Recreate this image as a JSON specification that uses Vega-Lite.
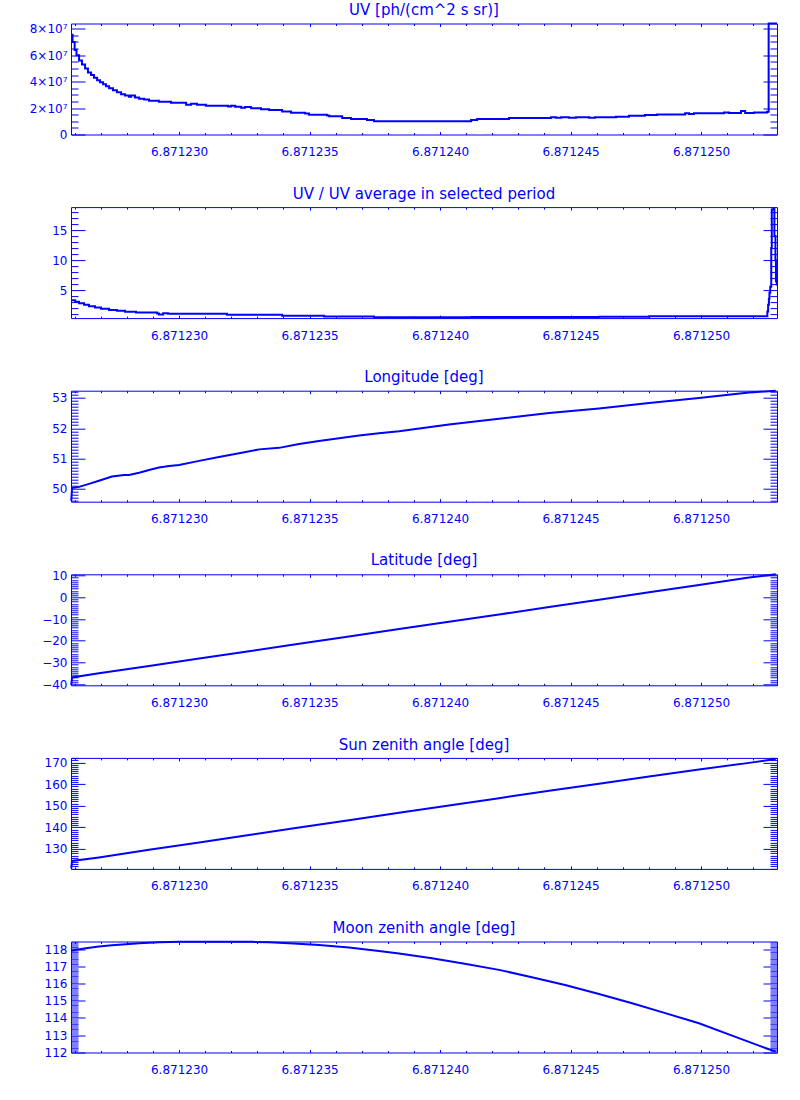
{
"$schema": "https://vega.github.io/schema/vega-lite/v6.json",
"background": "white",
"padding": {"left": 28, "top": 1.5, "right": 5, "bottom": 5},
"bounds": "flush",
"spacing": 72.6,
"config": {
  "font": "DejaVu Sans",
  "view": {"stroke": "#0000ff", "strokeWidth": 1},
  "axis": {"domain": false, "grid": false, "labelColor": "#0000ff", "tickColor": "#0000ff", "labelFont": "DejaVu Sans", "labelFontSize": 12, "tickWidth": 1, "labelOverlap": false, "labelFlush": false, "title": null},
  "title": {"color": "#0000ff", "font": "DejaVu Sans", "fontSize": 15, "fontWeight": "normal", "offset": 2, "baseline": "alphabetic", "anchor": "middle"}
},
"vconcat": [
{
  "title": "UV [ph/(cm^2 s sr)]",
  "width": 706, "height": 111,
  "data": {"values": [
    {"x": 6.87122587, "y": 75500000}, {"x": 6.87122592, "y": 70000000}, {"x": 6.87122600, "y": 64000000},
    {"x": 6.87122607, "y": 60000000}, {"x": 6.87122617, "y": 56000000}, {"x": 6.87122628, "y": 53000000},
    {"x": 6.87122640, "y": 50000000}, {"x": 6.87122651, "y": 47000000}, {"x": 6.87122663, "y": 45000000},
    {"x": 6.87122674, "y": 43000000}, {"x": 6.87122686, "y": 41000000}, {"x": 6.87122697, "y": 39500000},
    {"x": 6.87122709, "y": 38000000}, {"x": 6.87122720, "y": 36500000}, {"x": 6.87122732, "y": 35000000},
    {"x": 6.87122747, "y": 33500000}, {"x": 6.87122762, "y": 32000000}, {"x": 6.87122778, "y": 30500000},
    {"x": 6.87122793, "y": 29500000}, {"x": 6.87122808, "y": 28500000}, {"x": 6.87122816, "y": 29500000},
    {"x": 6.87122831, "y": 28000000}, {"x": 6.87122847, "y": 27000000}, {"x": 6.87122866, "y": 26500000},
    {"x": 6.87122885, "y": 25500000}, {"x": 6.87122923, "y": 24800000}, {"x": 6.87122969, "y": 24000000},
    {"x": 6.87123027, "y": 22500000}, {"x": 6.87123046, "y": 23200000}, {"x": 6.87123069, "y": 22500000},
    {"x": 6.87123103, "y": 21800000}, {"x": 6.87123188, "y": 21200000}, {"x": 6.87123199, "y": 21800000},
    {"x": 6.87123215, "y": 21000000}, {"x": 6.87123238, "y": 20200000}, {"x": 6.87123253, "y": 20800000},
    {"x": 6.87123276, "y": 19800000}, {"x": 6.87123314, "y": 19200000}, {"x": 6.87123345, "y": 18500000},
    {"x": 6.87123395, "y": 17500000}, {"x": 6.87123429, "y": 16500000}, {"x": 6.87123483, "y": 15800000},
    {"x": 6.87123498, "y": 15000000}, {"x": 6.87123567, "y": 14300000}, {"x": 6.87123575, "y": 13800000},
    {"x": 6.87123625, "y": 12500000}, {"x": 6.87123659, "y": 11800000}, {"x": 6.87123720, "y": 11000000},
    {"x": 6.87123747, "y": 10000000}, {"x": 6.87124119, "y": 11000000}, {"x": 6.87124142, "y": 11700000},
    {"x": 6.87124264, "y": 12400000}, {"x": 6.87124425, "y": 13000000}, {"x": 6.87124444, "y": 12700000},
    {"x": 6.87124464, "y": 13000000}, {"x": 6.87124494, "y": 12700000}, {"x": 6.87124521, "y": 13000000},
    {"x": 6.87124571, "y": 12700000}, {"x": 6.87124594, "y": 13000000}, {"x": 6.87124674, "y": 13500000},
    {"x": 6.87124724, "y": 14200000}, {"x": 6.87124785, "y": 14800000}, {"x": 6.87124831, "y": 15200000},
    {"x": 6.87124939, "y": 16000000}, {"x": 6.87124954, "y": 15600000}, {"x": 6.87124973, "y": 16000000},
    {"x": 6.87125088, "y": 16700000}, {"x": 6.87125107, "y": 16200000}, {"x": 6.87125153, "y": 17700000},
    {"x": 6.87125169, "y": 16300000}, {"x": 6.87125203, "y": 16700000}, {"x": 6.87125253, "y": 17200000},
    {"x": 6.87125259, "y": 84000000}, {"x": 6.87125291, "y": 84000000}
  ]},
  "layer": [
    {"mark": {"type": "line", "color": "#0000ff", "strokeWidth": 2, "interpolate": "step-after"},
     "encoding": {
       "x": {"field": "x", "type": "quantitative", "scale": {"domain": [6.87122586, 6.87125291], "nice": false, "zero": false},
             "axis": {"orient": "bottom", "values": [6.87123, 6.871235, 6.87124, 6.871245, 6.87125], "format": ".6f", "ticks": false, "labelPadding": 12}},
       "y": {"field": "y", "type": "quantitative", "scale": {"domain": [0, 84000000], "nice": false, "zero": false},
             "axis": {"orient": "left", "values": [0, 20000000, 40000000, 60000000, 80000000], "labelExpr": "datum.value == 0 ? '0' : format(datum.value / 1e7, 'd') + '×10⁷'", "ticks": false, "labelPadding": 4}}
     }},
    {"mark": {"type": "line", "opacity": 0},
     "encoding": {
       "x": {"field": "x", "type": "quantitative", "scale": {"domain": [6.87122586, 6.87125291], "nice": false, "zero": false},
             "axis": {"orient": "bottom", "labels": false, "values": [6.871226,6.871227,6.871228,6.871229,6.87123,6.871231,6.871232,6.871233,6.871234,6.871235,6.871236,6.871237,6.871238,6.871239,6.87124,6.871241,6.871242,6.871243,6.871244,6.871245,6.871246,6.871247,6.871248,6.871249,6.87125,6.871251,6.871252], "tickSize": {"condition": {"test": "round(datum.value*1e6) % 5 == 0", "value": -3}, "value": -2}}},
       "y": {"field": "y", "type": "quantitative", "scale": {"domain": [0, 84000000], "nice": false, "zero": false},
             "axis": {"orient": "left", "labels": false, "values": [0,5000000,10000000,15000000,20000000,25000000,30000000,35000000,40000000,45000000,50000000,55000000,60000000,65000000,70000000,75000000,80000000], "tickSize": {"condition": {"test": "round(datum.value/1e6) % 20 == 0", "value": -14}, "value": -7}}}
     }},
    {"mark": {"type": "line", "opacity": 0},
     "encoding": {
       "x": {"field": "x", "type": "quantitative", "scale": {"domain": [6.87122586, 6.87125291], "nice": false, "zero": false},
             "axis": {"orient": "top", "labels": false, "values": [6.871226,6.871227,6.871228,6.871229,6.87123,6.871231,6.871232,6.871233,6.871234,6.871235,6.871236,6.871237,6.871238,6.871239,6.87124,6.871241,6.871242,6.871243,6.871244,6.871245,6.871246,6.871247,6.871248,6.871249,6.87125,6.871251,6.871252], "tickSize": {"condition": {"test": "round(datum.value*1e6) % 5 == 0", "value": -3}, "value": -2}}},
       "y": {"field": "y", "type": "quantitative", "scale": {"domain": [0, 84000000], "nice": false, "zero": false},
             "axis": {"orient": "right", "labels": false, "values": [0,5000000,10000000,15000000,20000000,25000000,30000000,35000000,40000000,45000000,50000000,55000000,60000000,65000000,70000000,75000000,80000000], "tickSize": {"condition": {"test": "round(datum.value/1e6) % 20 == 0", "value": -14}, "value": -7}}}
     }}
  ],
  "resolve": {"axis": {"x": "independent", "y": "independent"}}
},
{
  "title": "UV / UV average in selected period",
  "width": 706, "height": 111,
  "data": {"values": [
    {"x": 6.87122587, "y": 3.35}, {"x": 6.87122602, "y": 3.1}, {"x": 6.87122617, "y": 2.85},
    {"x": 6.87122636, "y": 2.6}, {"x": 6.87122655, "y": 2.35}, {"x": 6.87122678, "y": 2.15},
    {"x": 6.87122701, "y": 1.95}, {"x": 6.87122732, "y": 1.75}, {"x": 6.87122762, "y": 1.6},
    {"x": 6.87122793, "y": 1.45}, {"x": 6.87122835, "y": 1.3}, {"x": 6.87122916, "y": 1.15},
    {"x": 6.87122923, "y": 1.0}, {"x": 6.87122939, "y": 1.2}, {"x": 6.87122958, "y": 1.1},
    {"x": 6.87123184, "y": 0.95}, {"x": 6.87123395, "y": 0.8}, {"x": 6.87123556, "y": 0.65},
    {"x": 6.87123747, "y": 0.52}, {"x": 6.87124119, "y": 0.57}, {"x": 6.87124609, "y": 0.63},
    {"x": 6.87124801, "y": 0.7}, {"x": 6.87125254, "y": 1.5}, {"x": 6.87125257, "y": 2.6},
    {"x": 6.87125260, "y": 3.6}, {"x": 6.87125262, "y": 4.6}, {"x": 6.87125265, "y": 5.6},
    {"x": 6.87125269, "y": 12}, {"x": 6.87125271, "y": 18.4}, {"x": 6.87125277, "y": 18.6},
    {"x": 6.87125281, "y": 14}, {"x": 6.87125285, "y": 10}, {"x": 6.87125287, "y": 6.5},
    {"x": 6.87125290, "y": 5.8}
  ]},
  "layer": [
    {"mark": {"type": "line", "color": "#0000ff", "strokeWidth": 2, "interpolate": "step-after"},
     "encoding": {
       "x": {"field": "x", "type": "quantitative", "scale": {"domain": [6.87122586, 6.87125291], "nice": false, "zero": false},
             "axis": {"orient": "bottom", "values": [6.87123, 6.871235, 6.87124, 6.871245, 6.87125], "format": ".6f", "ticks": false, "labelPadding": 12}},
       "y": {"field": "y", "type": "quantitative", "scale": {"domain": [0.39, 18.8], "nice": false, "zero": false},
             "axis": {"orient": "left", "values": [5, 10, 15], "format": "d", "ticks": false, "labelPadding": 4}}
     }},
    {"mark": {"type": "line", "opacity": 0},
     "encoding": {
       "x": {"field": "x", "type": "quantitative", "scale": {"domain": [6.87122586, 6.87125291], "nice": false, "zero": false},
             "axis": {"orient": "bottom", "labels": false, "values": [6.871226,6.871227,6.871228,6.871229,6.87123,6.871231,6.871232,6.871233,6.871234,6.871235,6.871236,6.871237,6.871238,6.871239,6.87124,6.871241,6.871242,6.871243,6.871244,6.871245,6.871246,6.871247,6.871248,6.871249,6.87125,6.871251,6.871252], "tickSize": {"condition": {"test": "round(datum.value*1e6) % 5 == 0", "value": -3}, "value": -2}}},
       "y": {"field": "y", "type": "quantitative", "scale": {"domain": [0.39, 18.8], "nice": false, "zero": false},
             "axis": {"orient": "left", "labels": false, "values": [1,2,3,4,5,6,7,8,9,10,11,12,13,14,15,16,17,18], "tickSize": {"condition": {"test": "datum.value % 5 == 0", "value": -14}, "value": -7}}}
     }},
    {"mark": {"type": "line", "opacity": 0},
     "encoding": {
       "x": {"field": "x", "type": "quantitative", "scale": {"domain": [6.87122586, 6.87125291], "nice": false, "zero": false},
             "axis": {"orient": "top", "labels": false, "values": [6.871226,6.871227,6.871228,6.871229,6.87123,6.871231,6.871232,6.871233,6.871234,6.871235,6.871236,6.871237,6.871238,6.871239,6.87124,6.871241,6.871242,6.871243,6.871244,6.871245,6.871246,6.871247,6.871248,6.871249,6.87125,6.871251,6.871252], "tickSize": {"condition": {"test": "round(datum.value*1e6) % 5 == 0", "value": -3}, "value": -2}}},
       "y": {"field": "y", "type": "quantitative", "scale": {"domain": [0.39, 18.8], "nice": false, "zero": false},
             "axis": {"orient": "right", "labels": false, "values": [1,2,3,4,5,6,7,8,9,10,11,12,13,14,15,16,17,18], "tickSize": {"condition": {"test": "datum.value % 5 == 0", "value": -14}, "value": -7}}}
     }}
  ],
  "resolve": {"axis": {"x": "independent", "y": "independent"}}
},
{
  "title": "Longitude [deg]",
  "width": 706, "height": 111,
  "data": {"values": [
    {"x": 6.87122587, "y": 49.6}, {"x": 6.87122590, "y": 50.02}, {"x": 6.87122617, "y": 50.06},
    {"x": 6.87122655, "y": 50.16}, {"x": 6.87122693, "y": 50.26}, {"x": 6.87122743, "y": 50.4},
    {"x": 6.87122789, "y": 50.45}, {"x": 6.87122808, "y": 50.45}, {"x": 6.87122847, "y": 50.53},
    {"x": 6.87122885, "y": 50.62}, {"x": 6.87122923, "y": 50.7}, {"x": 6.87122962, "y": 50.75},
    {"x": 6.87123000, "y": 50.78}, {"x": 6.87123077, "y": 50.92}, {"x": 6.87123153, "y": 51.05},
    {"x": 6.87123230, "y": 51.17}, {"x": 6.87123307, "y": 51.3}, {"x": 6.87123383, "y": 51.35},
    {"x": 6.87123460, "y": 51.48}, {"x": 6.87123536, "y": 51.58}, {"x": 6.87123613, "y": 51.67},
    {"x": 6.87123690, "y": 51.76}, {"x": 6.87123766, "y": 51.83}, {"x": 6.87123843, "y": 51.9},
    {"x": 6.87124034, "y": 52.12}, {"x": 6.87124226, "y": 52.31}, {"x": 6.87124418, "y": 52.5},
    {"x": 6.87124609, "y": 52.65}, {"x": 6.87124801, "y": 52.83}, {"x": 6.87124992, "y": 53.0},
    {"x": 6.87125184, "y": 53.18}, {"x": 6.87125286, "y": 53.24}
  ]},
  "layer": [
    {"mark": {"type": "line", "color": "#0000ff", "strokeWidth": 2},
     "encoding": {
       "x": {"field": "x", "type": "quantitative", "scale": {"domain": [6.87122586, 6.87125291], "nice": false, "zero": false},
             "axis": {"orient": "bottom", "values": [6.87123, 6.871235, 6.87124, 6.871245, 6.87125], "format": ".6f", "ticks": false, "labelPadding": 12}},
       "y": {"field": "y", "type": "quantitative", "scale": {"domain": [49.57, 53.24], "nice": false, "zero": false},
             "axis": {"orient": "left", "values": [50, 51, 52, 53], "format": "d", "ticks": false, "labelPadding": 4}}
     }},
    {"mark": {"type": "line", "opacity": 0},
     "encoding": {
       "x": {"field": "x", "type": "quantitative", "scale": {"domain": [6.87122586, 6.87125291], "nice": false, "zero": false},
             "axis": {"orient": "bottom", "labels": false, "values": [6.871226,6.871227,6.871228,6.871229,6.87123,6.871231,6.871232,6.871233,6.871234,6.871235,6.871236,6.871237,6.871238,6.871239,6.87124,6.871241,6.871242,6.871243,6.871244,6.871245,6.871246,6.871247,6.871248,6.871249,6.87125,6.871251,6.871252], "tickSize": {"condition": {"test": "round(datum.value*1e6) % 5 == 0", "value": -3}, "value": -2}}},
       "y": {"field": "y", "type": "quantitative", "scale": {"domain": [49.57, 53.24], "nice": false, "zero": false},
             "axis": {"orient": "left", "labels": false, "values": [49.6,49.7,49.8,49.9,50,50.1,50.2,50.3,50.4,50.5,50.6,50.7,50.8,50.9,51,51.1,51.2,51.3,51.4,51.5,51.6,51.7,51.8,51.9,52,52.1,52.2,52.3,52.4,52.5,52.6,52.7,52.8,52.9,53,53.1,53.2], "tickSize": {"condition": {"test": "round(datum.value*10) % 10 == 0", "value": -14}, "value": -7}}}
     }},
    {"mark": {"type": "line", "opacity": 0},
     "encoding": {
       "x": {"field": "x", "type": "quantitative", "scale": {"domain": [6.87122586, 6.87125291], "nice": false, "zero": false},
             "axis": {"orient": "top", "labels": false, "values": [6.871226,6.871227,6.871228,6.871229,6.87123,6.871231,6.871232,6.871233,6.871234,6.871235,6.871236,6.871237,6.871238,6.871239,6.87124,6.871241,6.871242,6.871243,6.871244,6.871245,6.871246,6.871247,6.871248,6.871249,6.87125,6.871251,6.871252], "tickSize": {"condition": {"test": "round(datum.value*1e6) % 5 == 0", "value": -3}, "value": -2}}},
       "y": {"field": "y", "type": "quantitative", "scale": {"domain": [49.57, 53.24], "nice": false, "zero": false},
             "axis": {"orient": "right", "labels": false, "values": [49.6,49.7,49.8,49.9,50,50.1,50.2,50.3,50.4,50.5,50.6,50.7,50.8,50.9,51,51.1,51.2,51.3,51.4,51.5,51.6,51.7,51.8,51.9,52,52.1,52.2,52.3,52.4,52.5,52.6,52.7,52.8,52.9,53,53.1,53.2], "tickSize": {"condition": {"test": "round(datum.value*10) % 10 == 0", "value": -14}, "value": -7}}}
     }}
  ],
  "resolve": {"axis": {"x": "independent", "y": "independent"}}
},
{
  "title": "Latitude [deg]",
  "width": 706, "height": 111,
  "data": {"values": [
    {"x": 6.87122587, "y": -40.4}, {"x": 6.87122590, "y": -36.9}, {"x": 6.87122693, "y": -35.0},
    {"x": 6.87122885, "y": -31.6}, {"x": 6.87123077, "y": -28.2}, {"x": 6.87123268, "y": -24.8},
    {"x": 6.87123460, "y": -21.4}, {"x": 6.87123651, "y": -18.0}, {"x": 6.87123843, "y": -14.6},
    {"x": 6.87124034, "y": -11.2}, {"x": 6.87124226, "y": -7.9}, {"x": 6.87124418, "y": -4.5},
    {"x": 6.87124609, "y": -1.1}, {"x": 6.87124801, "y": 2.3}, {"x": 6.87124992, "y": 5.7},
    {"x": 6.87125184, "y": 9.1}, {"x": 6.87125286, "y": 10.6}
  ]},
  "layer": [
    {"mark": {"type": "line", "color": "#0000ff", "strokeWidth": 2},
     "encoding": {
       "x": {"field": "x", "type": "quantitative", "scale": {"domain": [6.87122586, 6.87125291], "nice": false, "zero": false},
             "axis": {"orient": "bottom", "values": [6.87123, 6.871235, 6.87124, 6.871245, 6.87125], "format": ".6f", "ticks": false, "labelPadding": 12}},
       "y": {"field": "y", "type": "quantitative", "scale": {"domain": [-40.5, 10.6], "nice": false, "zero": false},
             "axis": {"orient": "left", "values": [-40, -30, -20, -10, 0, 10], "format": "d", "ticks": false, "labelPadding": 4}}
     }},
    {"mark": {"type": "line", "opacity": 0},
     "encoding": {
       "x": {"field": "x", "type": "quantitative", "scale": {"domain": [6.87122586, 6.87125291], "nice": false, "zero": false},
             "axis": {"orient": "bottom", "labels": false, "values": [6.871226,6.871227,6.871228,6.871229,6.87123,6.871231,6.871232,6.871233,6.871234,6.871235,6.871236,6.871237,6.871238,6.871239,6.87124,6.871241,6.871242,6.871243,6.871244,6.871245,6.871246,6.871247,6.871248,6.871249,6.87125,6.871251,6.871252], "tickSize": {"condition": {"test": "round(datum.value*1e6) % 5 == 0", "value": -3}, "value": -2}}},
       "y": {"field": "y", "type": "quantitative", "scale": {"domain": [-40.5, 10.6], "nice": false, "zero": false},
             "axis": {"orient": "left", "labels": false, "values": [-40,-39,-38,-37,-36,-35,-34,-33,-32,-31,-30,-29,-28,-27,-26,-25,-24,-23,-22,-21,-20,-19,-18,-17,-16,-15,-14,-13,-12,-11,-10,-9,-8,-7,-6,-5,-4,-3,-2,-1,0,1,2,3,4,5,6,7,8,9,10], "tickSize": {"condition": {"test": "datum.value % 10 == 0", "value": -14}, "value": -7}}}
     }},
    {"mark": {"type": "line", "opacity": 0},
     "encoding": {
       "x": {"field": "x", "type": "quantitative", "scale": {"domain": [6.87122586, 6.87125291], "nice": false, "zero": false},
             "axis": {"orient": "top", "labels": false, "values": [6.871226,6.871227,6.871228,6.871229,6.87123,6.871231,6.871232,6.871233,6.871234,6.871235,6.871236,6.871237,6.871238,6.871239,6.87124,6.871241,6.871242,6.871243,6.871244,6.871245,6.871246,6.871247,6.871248,6.871249,6.87125,6.871251,6.871252], "tickSize": {"condition": {"test": "round(datum.value*1e6) % 5 == 0", "value": -3}, "value": -2}}},
       "y": {"field": "y", "type": "quantitative", "scale": {"domain": [-40.5, 10.6], "nice": false, "zero": false},
             "axis": {"orient": "right", "labels": false, "values": [-40,-39,-38,-37,-36,-35,-34,-33,-32,-31,-30,-29,-28,-27,-26,-25,-24,-23,-22,-21,-20,-19,-18,-17,-16,-15,-14,-13,-12,-11,-10,-9,-8,-7,-6,-5,-4,-3,-2,-1,0,1,2,3,4,5,6,7,8,9,10], "tickSize": {"condition": {"test": "datum.value % 10 == 0", "value": -14}, "value": -7}}}
     }}
  ],
  "resolve": {"axis": {"x": "independent", "y": "independent"}}
},
{
  "title": "Sun zenith angle [deg]",
  "width": 706, "height": 111,
  "data": {"values": [
    {"x": 6.87122587, "y": 121.0}, {"x": 6.87122590, "y": 124.5}, {"x": 6.87122693, "y": 126.1},
    {"x": 6.87122885, "y": 129.6}, {"x": 6.87123077, "y": 133.0}, {"x": 6.87123268, "y": 136.5},
    {"x": 6.87123460, "y": 139.9}, {"x": 6.87123651, "y": 143.3}, {"x": 6.87123843, "y": 146.7},
    {"x": 6.87124034, "y": 150.1}, {"x": 6.87124226, "y": 153.5}, {"x": 6.87124418, "y": 156.9},
    {"x": 6.87124609, "y": 160.2}, {"x": 6.87124801, "y": 163.5}, {"x": 6.87124992, "y": 166.7},
    {"x": 6.87125184, "y": 169.8}, {"x": 6.87125286, "y": 171.6}
  ]},
  "layer": [
    {"mark": {"type": "line", "color": "#0000ff", "strokeWidth": 2},
     "encoding": {
       "x": {"field": "x", "type": "quantitative", "scale": {"domain": [6.87122586, 6.87125291], "nice": false, "zero": false},
             "axis": {"orient": "bottom", "values": [6.87123, 6.871235, 6.87124, 6.871245, 6.87125], "format": ".6f", "ticks": false, "labelPadding": 12}},
       "y": {"field": "y", "type": "quantitative", "scale": {"domain": [120.8, 172.1], "nice": false, "zero": false},
             "axis": {"orient": "left", "values": [130, 140, 150, 160, 170], "format": "d", "ticks": false, "labelPadding": 4}}
     }},
    {"mark": {"type": "line", "opacity": 0},
     "encoding": {
       "x": {"field": "x", "type": "quantitative", "scale": {"domain": [6.87122586, 6.87125291], "nice": false, "zero": false},
             "axis": {"orient": "bottom", "labels": false, "values": [6.871226,6.871227,6.871228,6.871229,6.87123,6.871231,6.871232,6.871233,6.871234,6.871235,6.871236,6.871237,6.871238,6.871239,6.87124,6.871241,6.871242,6.871243,6.871244,6.871245,6.871246,6.871247,6.871248,6.871249,6.87125,6.871251,6.871252], "tickSize": {"condition": {"test": "round(datum.value*1e6) % 5 == 0", "value": -3}, "value": -2}}},
       "y": {"field": "y", "type": "quantitative", "scale": {"domain": [120.8, 172.1], "nice": false, "zero": false},
             "axis": {"orient": "left", "labels": false, "values": [121,122,123,124,125,126,127,128,129,130,131,132,133,134,135,136,137,138,139,140,141,142,143,144,145,146,147,148,149,150,151,152,153,154,155,156,157,158,159,160,161,162,163,164,165,166,167,168,169,170,171,172], "tickSize": {"condition": {"test": "datum.value % 10 == 0", "value": -14}, "value": -7}}}
     }},
    {"mark": {"type": "line", "opacity": 0},
     "encoding": {
       "x": {"field": "x", "type": "quantitative", "scale": {"domain": [6.87122586, 6.87125291], "nice": false, "zero": false},
             "axis": {"orient": "top", "labels": false, "values": [6.871226,6.871227,6.871228,6.871229,6.87123,6.871231,6.871232,6.871233,6.871234,6.871235,6.871236,6.871237,6.871238,6.871239,6.87124,6.871241,6.871242,6.871243,6.871244,6.871245,6.871246,6.871247,6.871248,6.871249,6.87125,6.871251,6.871252], "tickSize": {"condition": {"test": "round(datum.value*1e6) % 5 == 0", "value": -3}, "value": -2}}},
       "y": {"field": "y", "type": "quantitative", "scale": {"domain": [120.8, 172.1], "nice": false, "zero": false},
             "axis": {"orient": "right", "labels": false, "values": [121,122,123,124,125,126,127,128,129,130,131,132,133,134,135,136,137,138,139,140,141,142,143,144,145,146,147,148,149,150,151,152,153,154,155,156,157,158,159,160,161,162,163,164,165,166,167,168,169,170,171,172], "tickSize": {"condition": {"test": "datum.value % 10 == 0", "value": -14}, "value": -7}}}
     }}
  ],
  "resolve": {"axis": {"x": "independent", "y": "independent"}}
},
{
  "title": "Moon zenith angle [deg]",
  "width": 706, "height": 111,
  "data": {"values": [
    {"x": 6.87122589, "y": 117.95}, {"x": 6.87122643, "y": 118.08}, {"x": 6.87122693, "y": 118.18},
    {"x": 6.87122743, "y": 118.25}, {"x": 6.87122796, "y": 118.31}, {"x": 6.87122847, "y": 118.37},
    {"x": 6.87122923, "y": 118.42}, {"x": 6.87123000, "y": 118.45}, {"x": 6.87123077, "y": 118.46},
    {"x": 6.87123153, "y": 118.46}, {"x": 6.87123280, "y": 118.45}, {"x": 6.87123345, "y": 118.42},
    {"x": 6.87123421, "y": 118.37}, {"x": 6.87123536, "y": 118.27}, {"x": 6.87123651, "y": 118.12},
    {"x": 6.87123766, "y": 117.92}, {"x": 6.87123843, "y": 117.77}, {"x": 6.87123969, "y": 117.49},
    {"x": 6.87124100, "y": 117.16}, {"x": 6.87124226, "y": 116.81}, {"x": 6.87124352, "y": 116.38},
    {"x": 6.87124483, "y": 115.91}, {"x": 6.87124609, "y": 115.4}, {"x": 6.87124736, "y": 114.86},
    {"x": 6.87124866, "y": 114.27}, {"x": 6.87124992, "y": 113.69}, {"x": 6.87125119, "y": 112.97},
    {"x": 6.87125249, "y": 112.23}, {"x": 6.87125286, "y": 112.03}
  ]},
  "layer": [
    {"mark": {"type": "line", "color": "#0000ff", "strokeWidth": 2},
     "encoding": {
       "x": {"field": "x", "type": "quantitative", "scale": {"domain": [6.87122586, 6.87125291], "nice": false, "zero": false},
             "axis": {"orient": "bottom", "values": [6.87123, 6.871235, 6.87124, 6.871245, 6.87125], "format": ".6f", "ticks": false, "labelPadding": 12}},
       "y": {"field": "y", "type": "quantitative", "scale": {"domain": [111.98, 118.47], "nice": false, "zero": false},
             "axis": {"orient": "left", "values": [112, 113, 114, 115, 116, 117, 118], "format": "d", "ticks": false, "labelPadding": 4}}
     }},
    {"mark": {"type": "line", "opacity": 0},
     "encoding": {
       "x": {"field": "x", "type": "quantitative", "scale": {"domain": [6.87122586, 6.87125291], "nice": false, "zero": false},
             "axis": {"orient": "bottom", "labels": false, "values": [6.871226,6.871227,6.871228,6.871229,6.87123,6.871231,6.871232,6.871233,6.871234,6.871235,6.871236,6.871237,6.871238,6.871239,6.87124,6.871241,6.871242,6.871243,6.871244,6.871245,6.871246,6.871247,6.871248,6.871249,6.87125,6.871251,6.871252], "tickSize": {"condition": {"test": "round(datum.value*1e6) % 5 == 0", "value": -3}, "value": -2}}},
       "y": {"field": "y", "type": "quantitative", "scale": {"domain": [111.98, 118.47], "nice": false, "zero": false},
             "axis": {"orient": "left", "labels": false, "values": [112,112.1,112.2,112.3,112.4,112.5,112.6,112.7,112.8,112.9,113,113.1,113.2,113.3,113.4,113.5,113.6,113.7,113.8,113.9,114,114.1,114.2,114.3,114.4,114.5,114.6,114.7,114.8,114.9,115,115.1,115.2,115.3,115.4,115.5,115.6,115.7,115.8,115.9,116,116.1,116.2,116.3,116.4,116.5,116.6,116.7,116.8,116.9,117,117.1,117.2,117.3,117.4,117.5,117.6,117.7,117.8,117.9,118,118.1,118.2,118.3,118.4], "tickSize": {"condition": {"test": "round(datum.value*10) % 10 == 0", "value": -14}, "value": -7}}}
     }},
    {"mark": {"type": "line", "opacity": 0},
     "encoding": {
       "x": {"field": "x", "type": "quantitative", "scale": {"domain": [6.87122586, 6.87125291], "nice": false, "zero": false},
             "axis": {"orient": "top", "labels": false, "values": [6.871226,6.871227,6.871228,6.871229,6.87123,6.871231,6.871232,6.871233,6.871234,6.871235,6.871236,6.871237,6.871238,6.871239,6.87124,6.871241,6.871242,6.871243,6.871244,6.871245,6.871246,6.871247,6.871248,6.871249,6.87125,6.871251,6.871252], "tickSize": {"condition": {"test": "round(datum.value*1e6) % 5 == 0", "value": -3}, "value": -2}}},
       "y": {"field": "y", "type": "quantitative", "scale": {"domain": [111.98, 118.47], "nice": false, "zero": false},
             "axis": {"orient": "right", "labels": false, "values": [112,112.1,112.2,112.3,112.4,112.5,112.6,112.7,112.8,112.9,113,113.1,113.2,113.3,113.4,113.5,113.6,113.7,113.8,113.9,114,114.1,114.2,114.3,114.4,114.5,114.6,114.7,114.8,114.9,115,115.1,115.2,115.3,115.4,115.5,115.6,115.7,115.8,115.9,116,116.1,116.2,116.3,116.4,116.5,116.6,116.7,116.8,116.9,117,117.1,117.2,117.3,117.4,117.5,117.6,117.7,117.8,117.9,118,118.1,118.2,118.3,118.4], "tickSize": {"condition": {"test": "round(datum.value*10) % 10 == 0", "value": -14}, "value": -7}}}
     }}
  ],
  "resolve": {"axis": {"x": "independent", "y": "independent"}}
}
]
}
